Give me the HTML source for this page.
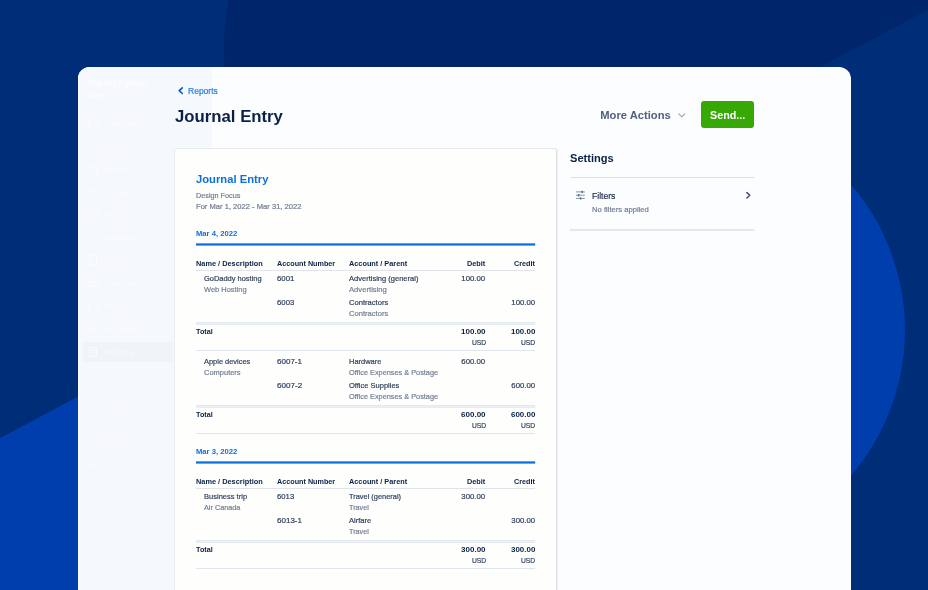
<!DOCTYPE html>
<html><head><meta charset="utf-8">
<style>
*{margin:0;padding:0;box-sizing:border-box}
html,body{width:928px;height:590px;overflow:hidden}
body{background:#002d78;font-family:"Liberation Sans",sans-serif;position:relative}
#bg{position:absolute;left:0;top:0}
#win{position:absolute;left:78px;top:67px;width:773px;height:540px;background:#fcfdfe;border-radius:12px 12px 0 0;overflow:hidden}
#side{position:absolute;left:0;top:0;width:96px;height:540px;background:#f5f8fc;border-left:1px solid #fdfeff}
#hdrtint{position:absolute;left:0;top:0;width:134px;height:82px;background:#f5f8fc}
#sel{position:absolute;left:5px;top:275px;width:90px;height:20px;background:#f0f4f9}
#card{position:absolute;left:96px;top:81px;width:383px;height:470px;background:#fefefd;border:1px solid #e6eaef;border-left-color:#e9edf1;border-right-color:#e0e4e9;box-shadow:1px 0 0 #ebeef2;border-radius:3px}
#send{position:absolute;left:701px;top:101px;width:53px;height:27px;background:#38a807;border-radius:3px}
.t{position:absolute;transform-origin:0 0;white-space:nowrap;line-height:12px;font-size:8px;color:#2f3f5b}
.b{font-weight:bold;color:#0a2146}
.g{color:#727e93}
.t:not(.b){-webkit-text-stroke:0.2px currentColor}
.bl{color:#0d6fdd}
.bl2{color:#2a7fe2}
.ma{color:#50607e}
.hl{position:absolute;height:1px;background:#dde3ea}
.w{color:#fff}
.d{color:#1c2d4e}
.f1{opacity:.7}.f2{opacity:.42}.f3{opacity:.35}
.ic{position:absolute}
#txt{position:absolute;left:0;top:0;width:928px;height:590px;will-change:transform}
</style></head><body>
<svg id="bg" width="928" height="590" viewBox="0 0 928 590">
<circle cx="476" cy="50" r="252" fill="#00256a"/>
<polygon points="476,0 928,0 928,9.5 821,66.5 821,80 476,80" fill="#00256a"/>
<circle cx="682" cy="330" r="223" fill="#003eae"/>
<polygon points="0,438.2 78,396.6 78,590 0,590" fill="#003eae"/>
</svg>
<div id="win">
<div id="hdrtint"></div>
<div id="side"></div>
<div id="sel"></div>
<div id="card"></div>
</div>
<div id="send"></div>
<svg class="ic" style="left:0;top:0" width="928" height="590" viewBox="0 0 928 590" fill="none">
<path d="M182.3 87.9 L179.2 90.7 L182.3 93.5" stroke="#0b55cf" stroke-width="1.6" stroke-linecap="round" stroke-linejoin="round"/>
<path d="M678.9 114 L681.8 116.7 L684.7 114" stroke="#a4aebf" stroke-width="1.2" stroke-linecap="round" stroke-linejoin="round"/>
<path d="M746.9 192.6 L749.8 195.3 L746.9 198" stroke="#3a4c6c" stroke-width="1.5" stroke-linecap="round" stroke-linejoin="round"/>
<g stroke="#7a879d" stroke-width="0.9">
<path d="M576 191.9H584.8M576 195.2H584.8M576 198.4H584.8"/>
</g>
<g fill="#5d6b84"><rect x="581.4" y="190.7" width="1.5" height="2.4" rx="0.5"/><rect x="577.9" y="194" width="1.5" height="2.4" rx="0.5"/><rect x="579.8" y="197.2" width="1.5" height="2.4" rx="0.5"/></g>
<rect x="570" y="177" width="184.5" height="1" fill="#dce2ea"/>
<rect x="570" y="229" width="184.5" height="2" fill="#e3e8ef"/>
</svg>
<div id="txt">
<div class="t bl2" style="left:188.0px;top:85px;font-size:8.4px;transform:scaleX(1.016)">Reports</div>
<div class="t b h1" style="left:174.7px;top:111px;font-size:17px;transform:scaleX(0.985)">Journal Entry</div>
<div class="t b ma" style="left:600.3px;top:109px;font-size:11.2px">More Actions</div>
<div class="t b w" style="left:709.8px;top:109px;font-size:11.4px;transform:scaleX(0.945)">Send...</div>
<div class="t b" style="left:570.0px;top:152px;font-size:11.6px;transform:scaleX(0.957)">Settings</div>
<div class="t d" style="left:591.7px;top:190px;font-size:9.6px;transform:scaleX(0.896)">Filters</div>
<div class="t g" style="left:591.5px;top:204px;font-size:7.4px;transform:scaleX(1.033)">No filters applied</div>
<div class="t b bl" style="left:196.0px;top:173px;font-size:11.4px;transform:scaleX(0.986)">Journal Entry</div>
<div class="t g" style="left:196.0px;top:190px;font-size:7.3px;transform:scaleX(0.993)">Design Focus</div>
<div class="t g" style="left:196.0px;top:201px;font-size:7.3px;transform:scaleX(1.040)">For Mar 1, 2022 - Mar 31, 2022</div>
<div class="t b bl" style="left:196.0px;top:228px;font-size:7.7px;transform:scaleX(0.994)">Mar 4, 2022</div>
<div class="t b" style="left:196.4px;top:258px;font-size:7.6px;transform:scaleX(0.970)">Name / Description</div>
<div class="t b" style="left:276.7px;top:258px;font-size:7.6px;transform:scaleX(0.951)">Account Number</div>
<div class="t b" style="left:348.8px;top:258px;font-size:7.6px;transform:scaleX(0.963)">Account / Parent</div>
<div class="t b" style="left:466.9px;top:258px;font-size:7.6px;transform:scaleX(0.959)">Debit</div>
<div class="t b" style="left:514.3px;top:258px;font-size:7.6px;transform:scaleX(0.947)">Credit</div>
<div class="t " style="left:203.7px;top:273px;font-size:7.8px;transform:scaleX(0.956)">GoDaddy hosting</div>
<div class="t g" style="left:203.7px;top:284px;font-size:7.8px;transform:scaleX(0.957)">Web Hosting</div>
<div class="t " style="left:276.8px;top:273px;font-size:7.9px;transform:scaleX(0.985)">6001</div>
<div class="t " style="left:348.8px;top:273px;font-size:7.8px;transform:scaleX(0.965)">Advertising (general)</div>
<div class="t g" style="left:348.8px;top:284px;font-size:7.8px;transform:scaleX(0.982)">Advertising</div>
<div class="t " style="left:461.3px;top:273px;font-size:7.8px">100.00</div>
<div class="t " style="left:276.8px;top:297px;font-size:7.9px;transform:scaleX(0.985)">6003</div>
<div class="t " style="left:348.8px;top:297px;font-size:7.8px;transform:scaleX(0.975)">Contractors</div>
<div class="t g" style="left:348.8px;top:308px;font-size:7.8px;transform:scaleX(0.975)">Contractors</div>
<div class="t " style="left:511.3px;top:297px;font-size:7.8px">100.00</div>
<div class="t b" style="left:196.4px;top:326px;font-size:7.8px;transform:scaleX(0.931)">Total</div>
<div class="t b" style="left:461.2px;top:326px;font-size:7.8px;transform:scaleX(1.031)">100.00</div>
<div class="t b" style="left:510.7px;top:326px;font-size:7.8px;transform:scaleX(1.023)">100.00</div>
<div class="t " style="left:471.6px;top:337px;font-size:7.7px;transform:scaleX(0.875)">USD</div>
<div class="t " style="left:520.9px;top:337px;font-size:7.7px;transform:scaleX(0.875)">USD</div>
<div class="t " style="left:203.7px;top:356px;font-size:7.8px;transform:scaleX(0.954)">Apple devices</div>
<div class="t g" style="left:203.7px;top:367px;font-size:7.8px;transform:scaleX(0.960)">Computers</div>
<div class="t " style="left:276.8px;top:356px;font-size:7.9px;transform:scaleX(1.017)">6007-1</div>
<div class="t " style="left:348.8px;top:356px;font-size:7.8px;transform:scaleX(0.955)">Hardware</div>
<div class="t g" style="left:348.8px;top:367px;font-size:7.8px;transform:scaleX(0.940)">Office Expenses &amp; Postage</div>
<div class="t " style="left:461.3px;top:356px;font-size:7.8px">600.00</div>
<div class="t " style="left:276.8px;top:380px;font-size:7.9px;transform:scaleX(1.025)">6007-2</div>
<div class="t " style="left:348.8px;top:380px;font-size:7.8px;transform:scaleX(0.962)">Office Supplies</div>
<div class="t g" style="left:348.8px;top:391px;font-size:7.8px;transform:scaleX(0.940)">Office Expenses &amp; Postage</div>
<div class="t " style="left:511.3px;top:380px;font-size:7.8px">600.00</div>
<div class="t b" style="left:196.4px;top:409px;font-size:7.8px;transform:scaleX(0.931)">Total</div>
<div class="t b" style="left:461.2px;top:409px;font-size:7.8px;transform:scaleX(1.031)">600.00</div>
<div class="t b" style="left:510.7px;top:409px;font-size:7.8px;transform:scaleX(1.023)">600.00</div>
<div class="t " style="left:471.6px;top:420px;font-size:7.7px;transform:scaleX(0.875)">USD</div>
<div class="t " style="left:520.9px;top:420px;font-size:7.7px;transform:scaleX(0.875)">USD</div>
<div class="t b bl" style="left:196.0px;top:446px;font-size:7.7px;transform:scaleX(0.994)">Mar 3, 2022</div>
<div class="t b" style="left:196.4px;top:476px;font-size:7.6px;transform:scaleX(0.970)">Name / Description</div>
<div class="t b" style="left:276.7px;top:476px;font-size:7.6px;transform:scaleX(0.951)">Account Number</div>
<div class="t b" style="left:348.8px;top:476px;font-size:7.6px;transform:scaleX(0.963)">Account / Parent</div>
<div class="t b" style="left:466.9px;top:476px;font-size:7.6px;transform:scaleX(0.959)">Debit</div>
<div class="t b" style="left:514.3px;top:476px;font-size:7.6px;transform:scaleX(0.947)">Credit</div>
<div class="t " style="left:203.7px;top:491px;font-size:7.8px;transform:scaleX(0.965)">Business trip</div>
<div class="t g" style="left:203.7px;top:502px;font-size:7.8px;transform:scaleX(0.933)">Air Canada</div>
<div class="t " style="left:276.8px;top:491px;font-size:7.9px;transform:scaleX(0.979)">6013</div>
<div class="t " style="left:348.8px;top:491px;font-size:7.8px;transform:scaleX(0.950)">Travel (general)</div>
<div class="t g" style="left:348.8px;top:502px;font-size:7.8px;transform:scaleX(0.931)">Travel</div>
<div class="t " style="left:461.3px;top:491px;font-size:7.8px">300.00</div>
<div class="t " style="left:276.8px;top:515px;font-size:7.9px;transform:scaleX(1.017)">6013-1</div>
<div class="t " style="left:348.8px;top:515px;font-size:7.8px;transform:scaleX(0.967)">Airfare</div>
<div class="t g" style="left:348.8px;top:526px;font-size:7.8px;transform:scaleX(0.931)">Travel</div>
<div class="t " style="left:511.3px;top:515px;font-size:7.8px">300.00</div>
<div class="t b" style="left:196.4px;top:544px;font-size:7.8px;transform:scaleX(0.931)">Total</div>
<div class="t b" style="left:461.2px;top:544px;font-size:7.8px;transform:scaleX(1.031)">300.00</div>
<div class="t b" style="left:510.7px;top:544px;font-size:7.8px;transform:scaleX(1.023)">300.00</div>
<div class="t " style="left:471.6px;top:555px;font-size:7.7px;transform:scaleX(0.875)">USD</div>
<div class="t " style="left:520.9px;top:555px;font-size:7.7px;transform:scaleX(0.875)">USD</div>
<div class="t w b f1" style="left:87.4px;top:77px;font-size:9.6px;transform:scaleX(0.869)">The Art Agency</div>
<div class="t w f1" style="left:87.4px;top:90px;font-size:7.4px;transform:scaleX(0.895)">Owner</div>
<div class="t w f2" style="left:103.4px;top:118px;font-size:8.0px">Dashboard</div>
<div class="t w f2" style="left:103.4px;top:141px;font-size:8.0px">Clients</div>
<div class="t w f2" style="left:103.4px;top:164px;font-size:8.0px">Invoices</div>
<div class="t w f2" style="left:103.4px;top:187px;font-size:8.0px">Payments</div>
<div class="t w f2" style="left:103.4px;top:210px;font-size:8.0px">Expenses</div>
<div class="t w f2" style="left:103.4px;top:232px;font-size:8.0px">Estimates</div>
<div class="t w f2" style="left:103.4px;top:255px;font-size:8.0px">Projects</div>
<div class="t w f2" style="left:103.4px;top:278px;font-size:8.0px">Time Tracking</div>
<div class="t w f2" style="left:103.4px;top:301px;font-size:8.0px">My Team</div>
<div class="t w f2" style="left:103.4px;top:324px;font-size:8.0px">Accounting</div>
<div class="t w f2 b" style="left:103.4px;top:347px;font-size:8.0px">Reports</div>
<div class="t w f3" style="left:87.4px;top:375px;font-size:7.6px">Apps</div>
<div class="t w f3" style="left:87.4px;top:396px;font-size:7.6px">Bookkeepers</div>
<div class="t w f3" style="left:87.4px;top:417px;font-size:7.6px">Get Advice</div>
<div class="t w f3" style="left:87.4px;top:438px;font-size:7.6px">Integrations</div>
<div class="t w f3" style="left:87.4px;top:459px;font-size:7.6px">Help</div>
<svg class="ic" style="left:0;top:0" width="928" height="590" viewBox="0 0 928 590"><rect x="196" y="243.35" width="339.2" height="2.25" fill="#0b6fdc"/><rect x="196" y="270" width="339.2" height="1" fill="#dfe4eb"/><rect x="196" y="322" width="339.2" height="1" fill="#e3e8ef"/><rect x="196" y="323" width="339.2" height="1" fill="#edf0f5"/><rect x="196" y="324" width="339.2" height="1" fill="#e6eaf1"/><rect x="196" y="350" width="339.2" height="1" fill="#dfe5ec"/><rect x="196" y="405" width="339.2" height="1" fill="#e3e8ef"/><rect x="196" y="406" width="339.2" height="1" fill="#edf0f5"/><rect x="196" y="407" width="339.2" height="1" fill="#e6eaf1"/><rect x="196" y="433" width="339.2" height="1" fill="#dfe5ec"/><rect x="196" y="461.35" width="339.2" height="2.25" fill="#0b6fdc"/><rect x="196" y="488" width="339.2" height="1" fill="#dfe4eb"/><rect x="196" y="540" width="339.2" height="1" fill="#e3e8ef"/><rect x="196" y="541" width="339.2" height="1" fill="#edf0f5"/><rect x="196" y="542" width="339.2" height="1" fill="#e6eaf1"/><rect x="196" y="568" width="339.2" height="1" fill="#dfe5ec"/></svg>
<svg class="ic" style="left:0;top:0;opacity:.5" width="928" height="590" viewBox="0 0 928 590" fill="none" stroke="#fff" stroke-width="1"><rect x="88.5" y="119" width="9" height="8" rx="1"/><circle cx="93" cy="144.5" r="2.4"/><path d="M88.8 150.5c0-5 8.4-5 8.4 0"/><path d="M89.5 164.5h7v9h-7zM91 167.5h4M91 170h4"/><rect x="88.5" y="189" width="9" height="6.5" rx="1"/><path d="M88.5 191.5h9"/><rect x="88.5" y="211" width="9" height="8" rx="1"/><circle cx="93" cy="235.5" r="2.4"/><path d="M88.8 241.5c0-5 8.4-5 8.4 0"/><path d="M89.5 255.5h7v9h-7zM91 258.5h4M91 261h4"/><rect x="88.5" y="280" width="9" height="6.5" rx="1"/><path d="M88.5 282.5h9"/><rect x="88.5" y="302" width="9" height="8" rx="1"/><circle cx="93" cy="327.5" r="2.4"/><path d="M88.8 333.5c0-5 8.4-5 8.4 0"/><path d="M89.5 347.5h7v9h-7zM91 350.5h4M91 353h4"/></svg>
</div>
</body></html>
